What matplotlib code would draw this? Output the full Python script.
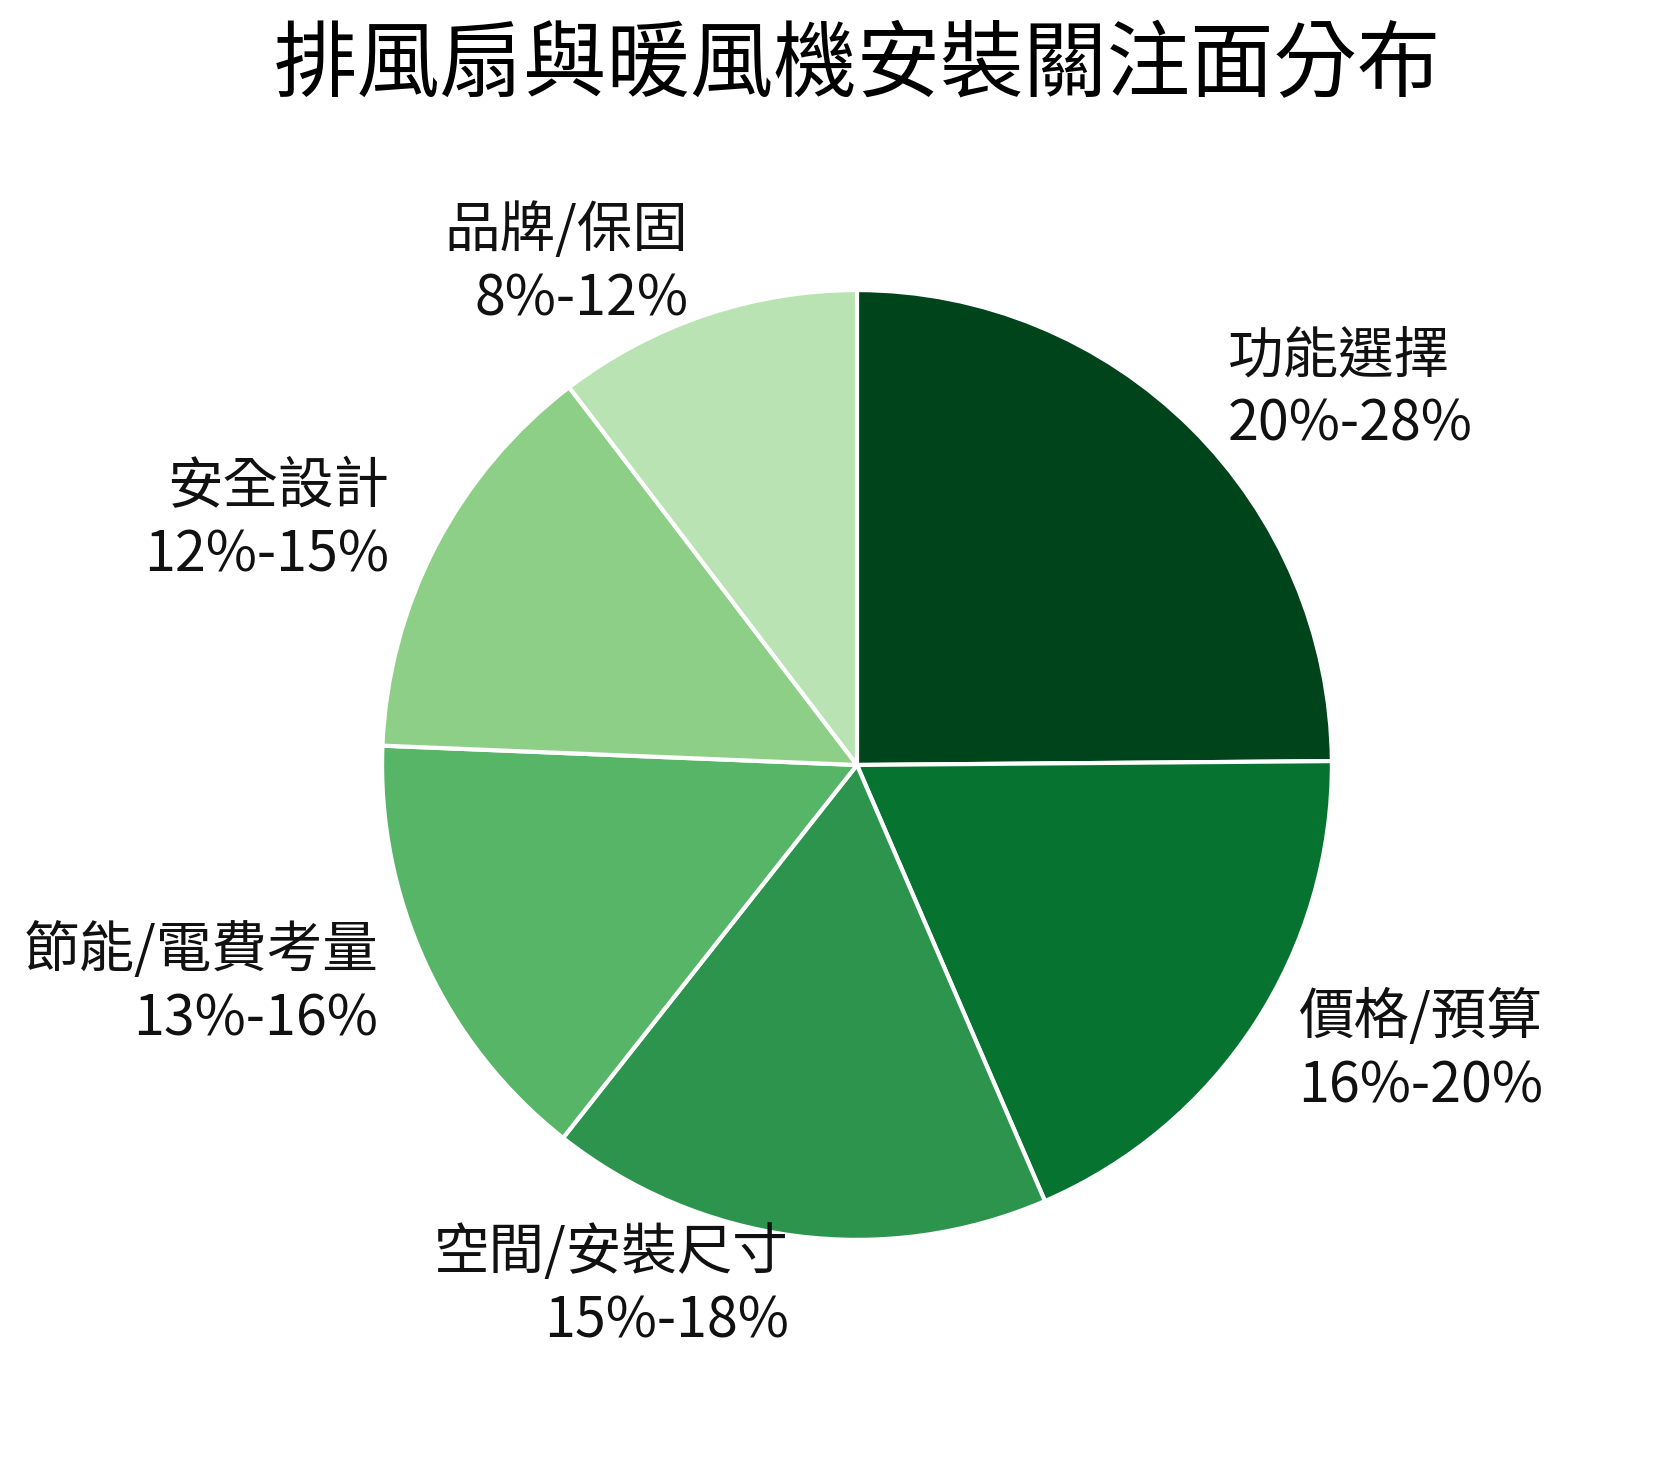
import matplotlib
matplotlib.use("Agg")
import matplotlib.pyplot as plt

plt.rcParams['font.family'] = ['Noto Sans CJK TC', 'DejaVu Sans']

categories = ['功能選擇', '價格/預算', '空間/安裝尺寸', '節能/電費考量', '安全設計', '品牌/保固']
ranges = ['20%-28%', '16%-20%', '15%-18%', '13%-16%', '12%-15%', '8%-12%']
values = [24, 18, 16.5, 14.5, 13.5, 10]
colors = ['#00441b', '#077331', '#2c944c', '#56b567', '#8ecf87', '#b9e3b2']

labels = [f'{c}\n{r}' for c, r in zip(categories, ranges)]

fig = plt.figure(figsize=(16.56, 14.68), dpi=100)
ax = fig.add_axes([0.2305, 0.1554, 0.574, 0.647])
ax.pie(values, labels=labels, colors=colors, startangle=90, counterclock=False,
       labeldistance=1.11,
       wedgeprops=dict(edgecolor='white', linewidth=3),
       textprops=dict(fontsize=40, color='#111111', linespacing=1.25))
ax.set_xlim(-1.0, 1.0)
ax.set_ylim(-1.0, 1.0)
ax.set_aspect('equal')
fig.text(0.5175, 0.955, '排風扇與暖風機安裝關注面分布', ha='center', va='center', fontsize=60)
fig.savefig('out.png', dpi=100)
